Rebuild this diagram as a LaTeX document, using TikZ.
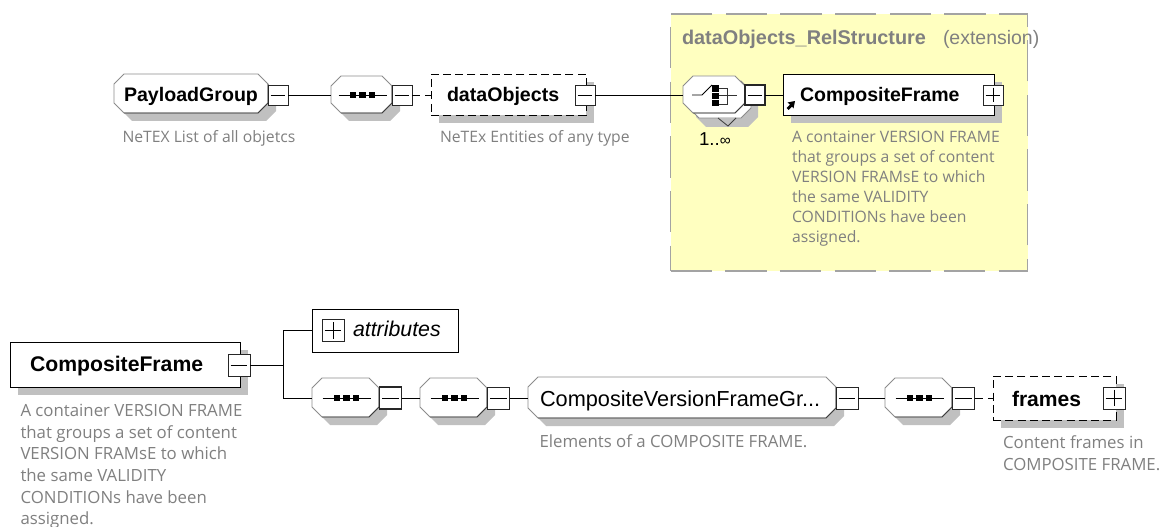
\documentclass[tikz,border=0pt]{standalone}
\usepackage{fontspec}
\setmainfont{Liberation Sans}
\newfontfamily\descfont{Open Sans}
\definecolor{shad}{HTML}{C0C0C0}
\definecolor{desc}{HTML}{808080}
\definecolor{edgeg}{HTML}{8C8C8C}
\definecolor{edged}{HTML}{3C3C3C}
\definecolor{yel}{HTML}{FFFFC0}
\newcommand{\octpath}[5]{(#1+#5,#2) -- (#3-#5,#2) -- (#3,#2+#5) -- (#3,#4-#5) -- (#3-#5,#4) -- (#1+#5,#4) -- (#1,#4-#5) -- (#1,#2+#5) -- cycle}
% name, left, top, right, bottom, connector y
\newcommand{\octbare}[6]{%
  \draw[edgeg,fill=white,line width=.7pt] \octpath{#2}{#3}{#4}{#5}{10};
  \draw[edged,line width=.7pt] (#4,#3+10) -- (#4,#5-10) -- (#4-10,#5) -- (#2+10,#5);
  \node[anchorbox,minimum width={(#4-(#2))*0.75pt}] (#1) at ({(#2+#4)/2},#6) {};}
\newcommand{\octnode}[6]{%
  \fill[shad] \octpath{#2+8}{#3+8}{#4+8}{#5+8}{10};
  \octbare{#1}{#2}{#3}{#4}{#5}{#6}}
\newcommand{\seqicon}[1]{\begin{scope}[shift={(#1.center)}]
  \draw[line width=.6pt] (-23,0) -- (25,0);
  \foreach \k in {-8.5,1,10.5}{\fill (\k-3.3,-3) rectangle (\k+3.3,3);}
\end{scope}}
\newcommand{\minusmark}[1]{\draw[line width=.5pt] ([xshift=2pt]#1.west) -- ([xshift=-2pt]#1.east);}
\newcommand{\plusmark}[1]{\draw[line width=.5pt] ([xshift=2pt]#1.west) -- ([xshift=-2pt]#1.east) ([yshift=-2pt]#1.north) -- ([yshift=2pt]#1.south);}
\usetikzlibrary{shadows}
\tikzset{
  x=0.75pt,y=-0.75pt,
  anchorbox/.style={rectangle,inner sep=0,outer sep=0,minimum height=1pt},
  plain/.style={rectangle,draw=black,fill=white,line width=.7pt,inner sep=0,outer sep=0},
  plainshad/.style={plain,general shadow={fill=shad,shadow xshift=6pt,shadow yshift=-6pt}},
  dashbox/.style={plainshad,dash pattern=on 6pt off 3.2pt,line width=.6pt},
  btn/.style={rectangle,draw=black!85,fill=white,line width=.6pt,inner sep=0,outer sep=0},
  btnA/.style={btn,minimum width=15pt,minimum height=15pt},
  btnB/.style={btn,minimum width=16.5pt,minimum height=16.5pt},
  conn/.style={draw=black,line width=.6pt},
  dconn/.style={conn,dash pattern=on 6pt off 4pt},
  title/.style={inner sep=0,outer sep=0,anchor=base west,text=black},
  noteA/.style={inner sep=0,outer sep=0,anchor=north west,align=left,text=desc,font=\descfont\fontsize{11.8}{15}\selectfont},
  noteB/.style={noteA,font=\descfont\fontsize{12.6}{16.3}\selectfont},
}
\begin{document}
\begin{tikzpicture}
\useasboundingbox (0,0) rectangle (1164,527);
\fill[white] (0,0) rectangle (1164,527);
% yellow panel
\node[rectangle,draw=edgeg!80,fill=yel,dash pattern=on 31pt off 10pt,line width=.8pt,minimum width=267.75pt,minimum height=192.75pt,inner sep=0,outer sep=0] (panel) at (849,142.5) {};
\node[title,text=desc,font=\bfseries\fontsize{14.9}{16}\selectfont] (paneltitle) at (682,45) {dataObjects\_RelStructure};
\node[title,text=desc,font=\fontsize{14.6}{16}\selectfont] (panelext) at (943,45) {(extension)};
% row 1
\octnode{pg}{114}{74}{268}{113}{95}
\node[title,font=\bfseries\fontsize{14.7}{16}\selectfont] (pgt) at (124,102) {PayloadGroup};
\node[btnA] (pgb) at (278,95) {};
\minusmark{pgb}
\node[noteA] (pgn) at (122.5,130.5) {NeTEX List of all objetcs};
\octnode{s1}{331}{76}{392}{113}{95}
\seqicon{s1}
\node[btnA] (s1b) at (402,95) {};
\minusmark{s1b}
\node[dashbox,minimum width=116.25pt,minimum height=30.75pt] (dobj) at (508.5,95) {};
\node[title,font=\bfseries\fontsize{14.7}{16}\selectfont] (dobjt) at (447,102) {dataObjects};
\node[btnA] (dobjb) at (585,95) {};
\minusmark{dobjb}
\node[noteA] (dobjn) at (440,130.5) {NeTEx Entities of any type};
% choice
\fill[shad] \octpath{696}{85}{758}{127}{10};
\draw[edgeg,fill=white,line width=.6pt] \octpath{689}{81}{751}{118}{10};
\draw[edged,fill=shad,line width=.6pt] (718,118) -- (728,126) -- (736,118);
\octbare{ch}{683}{76}{745}{113}{95}
\begin{scope}[shift={(ch.center)}]
\draw[line width=.6pt] (-22,0) -- (-12,0) -- (-2,-10);
\fill (-2,-10) rectangle (4.5,11);
\draw[line width=.5pt,white] (-2,-3) -- (4.5,-3) (-2,4) -- (4.5,4);
\draw[line width=.5pt,black!80] (4.5,-7) -- (13,-7) -- (13,9) -- (4.5,9) (4.5,0) -- (23,0);
\end{scope}
\node[btnA,line width=.8pt] (chbt) at (755,95) {};
\minusmark{chbt}
\node[title,font=\fontsize{14}{16}\selectfont] (chm) at (699,146) {1..{\fontsize{11.5}{12}\selectfont ∞}};
\node[plainshad,minimum width=158.25pt,minimum height=30.75pt] (cf1) at (888.5,95) {};
\node[title,font=\bfseries\fontsize{14.65}{16}\selectfont] (cf1t) at (800,102) {CompositeFrame};
\fill (787.5,102.5) -- (795,101) -- (793.5,108.5) -- (792,106.5) -- (788.5,110) -- (786.5,108) -- (790,104.5) -- cycle;
\node[btnA] (cf1b) at (993,95) {};
\plusmark{cf1b}
\node[noteA] (cf1n) at (792,130.5) {A container VERSION FRAME\\that groups a set of content\\VERSION FRAMsE to which\\the same VALIDITY\\CONDITIONs have been\\assigned.};
\draw[conn] (pgb.east) -- (s1.west);
\draw[dconn] (s1b.east) -- (dobj.west);
\draw[conn] (dobjb.east) -- (ch.west);
\draw[conn] (chbt.east) -- (cf1.west);
% row 2
\node[plainshad,minimum width=172.5pt,minimum height=33.75pt] (cf2) at (125,364.5) {};
\node[title,font=\bfseries\fontsize{15.9}{18}\selectfont] (cf2t) at (30,372) {CompositeFrame};
\node[btnB] (cf2b) at (239,365) {};
\minusmark{cf2b}
\node[noteB] (cf2n) at (20.5,404) {A container VERSION FRAME\\that groups a set of content\\VERSION FRAMsE to which\\the same VALIDITY\\CONDITIONs have been\\assigned.};
\node[plain,minimum width=109.5pt,minimum height=32.25pt] (attr) at (385,330.5) {};
\node[btnB] (attrb) at (333,330.5) {};
\plusmark{attrb}
\node[title,font=\itshape\fontsize{16}{18}\selectfont] (attrt) at (353,337) {attributes};
\octnode{s2}{312}{378}{379}{417}{398}
\seqicon{s2}
\node[btnB,line width=.8pt] (s2b) at (390.5,398) {};
\minusmark{s2b}
\octnode{s3}{420}{378}{487}{417}{398}
\seqicon{s3}
\node[btnB] (s3b) at (498.5,398) {};
\minusmark{s3b}
\octnode{cvf}{528}{377}{836}{418}{398}
\node[title,font=\fontsize{16.3}{18}\selectfont] (cvft) at (540,406) {CompositeVersionFrameGr...};
\node[btnB] (cvfb) at (847,398) {};
\minusmark{cvfb}
\node[noteB] (cvfn) at (539.5,435) {Elements of a COMPOSITE FRAME.};
\octnode{s4}{885}{378}{952}{417}{398}
\seqicon{s4}
\node[btnB] (s4b) at (963.5,398) {};
\minusmark{s4b}
\node[dashbox,minimum width=92.25pt,minimum height=33pt] (fr) at (1054.5,398) {};
\node[title,font=\bfseries\fontsize{15.8}{18}\selectfont] (frt) at (1012,406) {frames};
\node[btnB] (frb) at (1114,398) {};
\plusmark{frb}
\node[noteB] (frn) at (1003,436) {Content frames in\\COMPOSITE FRAME.};
\coordinate (fork) at (283,365);
\draw[conn] (cf2b.east) -- (fork);
\draw[conn] (fork) |- (attr.west);
\draw[conn] (fork) |- (s2.west);
\draw[conn] (s2b.east) -- (s3.west);
\draw[conn] (s3b.east) -- (cvf.west);
\draw[conn] (cvfb.east) -- (s4.west);
\draw[dconn] (s4b.east) -- (fr.west);
\end{tikzpicture}
\end{document}
